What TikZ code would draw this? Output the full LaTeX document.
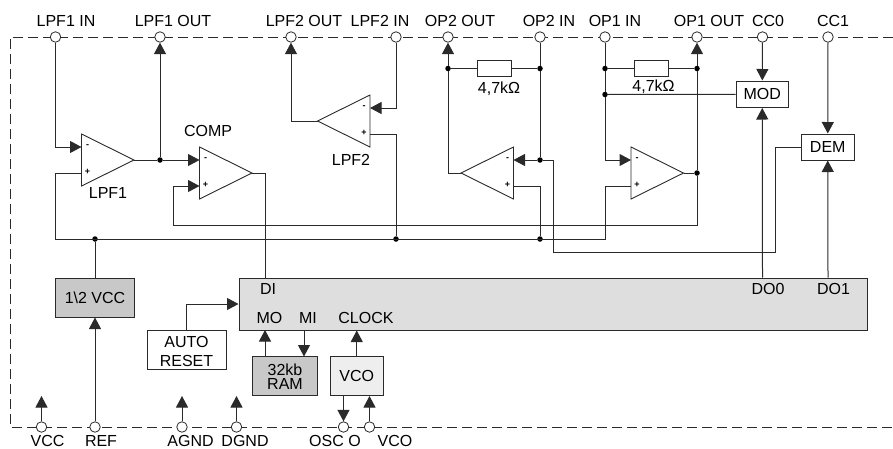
\documentclass[tikz,border=0pt]{standalone}
\usepackage{fontspec}
\setmainfont{Liberation Sans}
\usetikzlibrary{arrows.meta}
\definecolor{wirecol}{HTML}{2A2A2A}
\definecolor{blockA}{HTML}{DEDEDE}
\definecolor{blockB}{HTML}{C8C8C8}
\definecolor{blockC}{HTML}{EEEEEE}
\tikzset{
  x=1pt,y=-1pt,
  wire/.style={draw=wirecol,line width=1pt},
  arr/.style={wire,-{Triangle[length=11.5pt,width=12pt]}},
  term/.style={circle,draw=wirecol,fill=white,line width=0.8pt,inner sep=0pt,minimum size=10.5pt},
  jdot/.style={circle,fill=black,inner sep=0pt,minimum size=5.5pt},
  lab/.style={font=\fontsize{16}{16}\selectfont,inner sep=0pt,text=black},
  sign/.style={font=\fontsize{9}{9}\selectfont\bfseries,inner sep=0pt},
  boxb/.style={rectangle,draw=wirecol,line width=1pt,inner sep=0pt,align=center,font=\fontsize{16}{16}\selectfont},
  opbody/.style={draw=wirecol,line width=0.9pt,fill=white,line join=miter},
  res/.style={rectangle,draw=wirecol,line width=0.9pt,fill=white,inner sep=0pt,minimum width=34pt,minimum height=16pt},
}
% name, x of flat side, y of centre, direction (+1 points right, -1 points left)
\newcommand{\opamp}[4]{%
  \coordinate (#1-m) at (#2,#3-13);
  \coordinate (#1-p) at (#2,#3+13);
  \coordinate (#1-o) at ({#2+#4*52.5},#3);
  \draw[opbody] (#2,#3-26) -- (#1-o) -- (#2,#3+26) -- cycle;
  \node[sign] at ({#2+#4*6},#3-14) {-};
  \node[sign] at ({#2+#4*6},#3+12) {+};
}
\begin{document}
\begin{tikzpicture}
\useasboundingbox (0,0) rectangle (893,448);
% frame
\draw[draw=wirecol,line width=0.9pt,dash pattern=on 10pt off 5pt] (893,37) -- (10,37) -- (10,427) -- (893,427);

% op amps
\opamp{lpfa}{81.5}{160}{1}
\opamp{comp}{199.5}{173}{1}
\opamp{lpfb}{370}{121}{-1}
\opamp{opb}{513.5}{173}{-1}
\opamp{opa}{631}{173}{1}

% boxes
\node[boxb,fill=blockA,minimum width=628pt,minimum height=52pt] (chip) at (553,304) {};
\node[boxb,fill=blockB,minimum width=78.5pt,minimum height=39pt] (half) at (95,297.5) {1\textbackslash2 VCC};
\node[boxb,fill=white,minimum width=79pt,minimum height=39.5pt] (reset) at (186.5,349.75) {};
\node[boxb,fill=blockB,minimum width=65.5pt,minimum height=39pt] (ram) at (284.75,376) {};
\node[boxb,fill=blockC,minimum width=52.5pt,minimum height=39pt] (vco) at (356.75,376) {VCO};
\node[boxb,fill=white,minimum width=52.5pt,minimum height=26.5pt] (mod) at (762.25,94.25) {MOD};
\node[boxb,fill=white,minimum width=52.5pt,minimum height=26pt] (dem) at (827.75,147) {DEM};
\node[lab] (resettxta) at (186.5,342) {AUTO};
\node[lab] (resettxtb) at (186.5,361) {RESET};
\node[lab] (ramtxta) at (285,369.5) {32kb};
\node[lab] (ramtxtb) at (285,384) {RAM};

% resistors
\node[res] (rb) at (494,68.5) {};
\node[res] (ra) at (651.5,68.5) {};

% terminals
\foreach \n/\x in {lpfain/55.5,lpfaout/160,lpfbout/291,lpfbin/396,opbout/448,opbin/540,opain/605,opaout/697,cca/762.5,ccb/828}
  \node[term] (\n) at (\x,37) {};
\foreach \n/\x in {tvcc/41.5,tref/95,tagnd/182,tdgnd/236.5,tosc/343.5,tvco/369.5}
  \node[term] (\n) at (\x,427) {};
\coordinate (vcctip) at (41.5,396);
\coordinate (agndtip) at (182,396);
\coordinate (dgndtip) at (236.5,396);

% junctions
\node[jdot] (jlpf) at (160,160) {};
\node[jdot] (jrbl) at (448,68.5) {};
\node[jdot] (jrbr) at (540,68.5) {};
\node[jdot] (jopb) at (540,160) {};
\node[jdot] (jral) at (605,68.5) {};
\node[jdot] (jrar) at (697,68.5) {};
\node[jdot] (jmod) at (605,94.5) {};
\node[jdot] (jopa) at (697,173) {};
\node[jdot] (jhalf) at (95,239) {};
\node[jdot] (jlb) at (396,239) {};
\node[jdot] (job) at (540,239) {};

% bus corners
\coordinate (busa) at (55.5,239);
\coordinate (busb) at (605,239);
\coordinate (fba) at (173,225.5);
\coordinate (fbb) at (697,225.5);
\coordinate (dema) at (553,252);
\coordinate (demb) at (775,252);
\coordinate (compout) at (265,173);
\coordinate (rsta) at (186.5,304);
\coordinate (moa) at (265,356.5);
\coordinate (mob) at (265,330);
\coordinate (mia) at (304,330);
\coordinate (mib) at (304,356.5);

% connectors
\draw[arr] (lpfain) |- (lpfa-m);
\draw[wire] (lpfa-p) -| (busa) -- (busb) |- (opa-p);
\draw[wire] (lpfa-o) -- (jlpf);
\draw[arr] (jlpf) -- (lpfaout);
\draw[arr] (jlpf) -- (comp-m);
\draw[arr] (fba) |- (comp-p);
\draw[wire] (fba) -- (fbb) -- (jopa) -- (jrar);
\draw[arr] (jrar) -- (opaout);
\draw[wire] (opa-o) -- (jopa);
\draw[wire] (comp-o) -- (compout) -- (compout |- chip.north);
\draw[arr] (lpfb-o) -| (lpfbout);
\draw[arr] (lpfbin) |- (lpfb-m);
\draw[wire] (lpfb-p) -| (jlb);
\draw[wire] (opb-o) -| (jrbl);
\draw[arr] (jrbl) -- (opbout);
\draw[wire] (jrbl) -- (rb);
\draw[wire] (rb) -- (jrbr);
\draw[wire] (opbin) -- (jrbr) -- (jopb);
\draw[arr] (jopb) -- (opb-m);
\draw[wire] (opb-p) -| (job);
\draw[wire] (jopb) -| (dema) -- (demb) |- (dem.west);
\draw[wire] (opain) -- (jral) -- (jmod);
\draw[arr] (jmod) |- (opa-m);
\draw[wire] (jral) -- (ra);
\draw[wire] (ra) -- (jrar);
\draw[wire] (jmod) -- (mod);
\draw[arr] (cca) -- (mod);
\draw[arr] (cca |- chip.north) -- (mod.south);
\draw[arr] (ccb) -- (dem);
\draw[arr] (ccb |- chip.north) -- (dem.south);
\draw[wire] (half.north) -- (jhalf);
\draw[arr] (tref) -- (half);
\draw[wire] (reset.north) -- (rsta);
\draw[arr] (rsta) -- (chip.west);
\draw[arr] (moa) -- (mob);
\draw[arr] (mia) -- (mib);
\draw[arr] (vco.north) -- (vco.north |- chip.south);
\draw[arr] (tosc |- vco.south) -- (tosc);
\draw[arr] (tvco) -- (tvco |- vco.south);
\draw[arr] (tvcc) -- (vcctip);
\draw[arr] (tagnd) -- (agndtip);
\draw[arr] (tdgnd) -- (dgndtip);

% texts
\node[lab] (tl1) at (66,21) {LPF1 IN};
\node[lab] (tl2) at (173,21) {LPF1 OUT};
\node[lab] (tl3) at (304,21) {LPF2 OUT};
\node[lab] (tl4) at (380,21) {LPF2 IN};
\node[lab] (tl5) at (460,21) {OP2 OUT};
\node[lab] (tl6) at (549,21) {OP2 IN};
\node[lab] (tl7) at (615,21) {OP1 IN};
\node[lab] (tl8) at (709,21) {OP1 OUT};
\node[lab] (tl9) at (768,21) {CC0};
\node[lab] (tl10) at (833,21) {CC1};
\node[lab] (bl1) at (47.5,440.5) {VCC};
\node[lab] (bl2) at (101,440.5) {REF};
\node[lab] (bl3) at (190.5,440.5) {AGND};
\node[lab] (bl4) at (245,440.5) {DGND};
\node[lab] (bl5) at (335,440.5) {OSC O};
\node[lab] (bl6) at (395,440.5) {VCO};
\node[lab] (al1) at (108,192.5) {LPF1};
\node[lab] (al2) at (208,131) {COMP};
\node[lab] (al3) at (351,160) {LPF2};
\node[lab] (rl1) at (499,88.5) {4,7kΩ};
\node[lab] (rl2) at (653.5,86.5) {4,7kΩ};
\node[lab] (c1) at (268,289) {DI};
\node[lab] (c2) at (269.5,318) {MO};
\node[lab] (c3) at (308,318) {MI};
\node[lab] (c4) at (366,318) {CLOCK};
\node[lab] (c5) at (768,289) {DO0};
\node[lab] (c6) at (833.5,289) {DO1};
\end{tikzpicture}
\end{document}
